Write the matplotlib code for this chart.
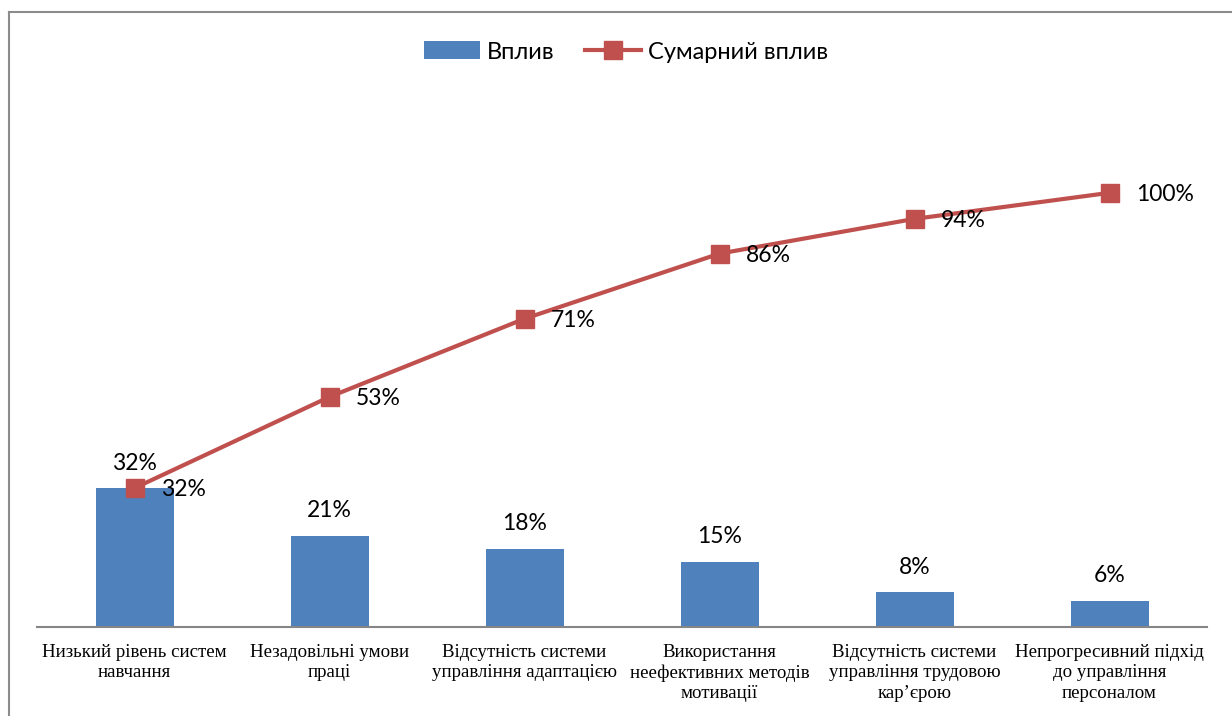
import matplotlib
matplotlib.use("Agg")
import matplotlib.pyplot as plt
from matplotlib.lines import Line2D
from matplotlib.patches import Patch

categories = [
    "Низький рівень систем\nнавчання",
    "Незадовільні умови\nпраці",
    "Відсутність системи\nуправління адаптацією",
    "Використання\nнеефективних методів\nмотивації",
    "Відсутність системи\nуправління трудовою\nкар’єрою",
    "Непрогресивний підхід\nдо управління\nперсоналом",
]
impact = [32, 21, 18, 15, 8, 6]
cumulative = [32, 53, 71, 86, 94, 100]
series_names = ["Вплив", "Сумарний вплив"]

W, H = 1232, 716
fig = plt.figure(figsize=(W / 100, H / 100), dpi=100)
ax = fig.add_axes([37 / W, (H - 627) / H, 1170 / W, 521 / H])

bar_color = "#4F81BD"
line_color = "#C0504D"
label_font = ["Lato", "DejaVu Sans"]
x = list(range(len(categories)))

ax.bar(x, impact, width=0.4, color=bar_color, zorder=2)
ax.plot(x, cumulative, color=line_color, lw=3, marker="s", markersize=13,
        markerfacecolor=line_color, markeredgecolor=line_color, zorder=3)

for xi, v in zip(x, impact):
    ax.annotate(f"{v}%", (xi, v), xytext=(0, 18), textcoords="offset points",
                ha="center", va="center", fontsize=16.5, family=label_font)
for xi, v in zip(x, cumulative):
    ax.annotate(f"{v}%", (xi, v), xytext=(19, -1), textcoords="offset points",
                ha="left", va="center", fontsize=16.5, family=label_font)

ax.set_xlim(-0.5, len(categories) - 0.5)
ax.set_ylim(0, 120)
for s in ["top", "right", "left"]:
    ax.spines[s].set_visible(False)
ax.spines["bottom"].set_color("#868686")
ax.spines["bottom"].set_linewidth(1.5)
ax.set_yticks([])
ax.set_xticks(x)
ax.set_xticklabels(categories, family=["Liberation Serif"], fontsize=13.6,
                   linespacing=1.27)
ax.tick_params(axis="x", length=0, pad=12)

handles = [Patch(facecolor=bar_color),
           Line2D([0], [0], color=line_color, lw=3, marker="s", markersize=13)]
fig.legend(handles, series_names, loc="center",
           bbox_to_anchor=(0.5 + 10 / W, 1 - 52 / H),
           ncol=2, frameon=False, prop={"family": label_font, "size": 17},
           handlelength=2.35, handleheight=0.8, columnspacing=1.3, handletextpad=0.3)

# partial chart border (left and top)
fig.add_artist(Line2D([9 / W, 9 / W], [0, 1 - 12 / H], color="#8C8C8C", lw=1.5,
                      transform=fig.transFigure))
fig.add_artist(Line2D([9 / W, 1], [1 - 12 / H, 1 - 12 / H], color="#8C8C8C", lw=1.5,
                      transform=fig.transFigure))

fig.savefig("out.png", dpi=100, facecolor="white")
